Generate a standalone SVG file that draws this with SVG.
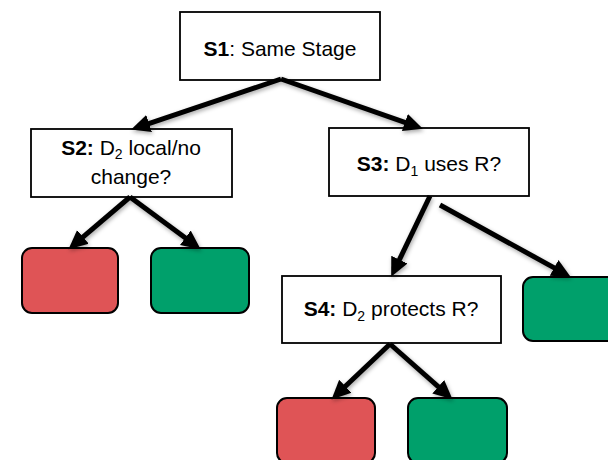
<svg xmlns="http://www.w3.org/2000/svg" width="608" height="460" viewBox="0 0 608 460">
  <style>
    .box { fill: #ffffff; stroke: #000000; stroke-width: 1.8; }
    .bad { fill: #DF5456; stroke: #000000; stroke-width: 2; }
    .good { fill: #00A06B; stroke: #000000; stroke-width: 2; }
    .lbl { font-family: "Liberation Sans", Arial, sans-serif; font-size: 21px; fill: #000000; text-anchor: middle; }
    .b { font-weight: bold; }
    .sub { font-size: 14px; }
    .edge { stroke: #000000; stroke-width: 5; fill: none; marker-end: url(#head); }
  </style>
  <defs>
    <marker id="head" markerUnits="userSpaceOnUse" markerWidth="20" markerHeight="20" viewBox="0 0 20 20" refX="9" refY="10" orient="auto">
      <path d="M0,1 L19,10 L0,19 z" fill="#000000"/>
    </marker>
    <filter id="shade" x="-20%" y="-20%" width="140%" height="140%">
      <feDropShadow dx="1" dy="2" stdDeviation="2" flood-color="#000000" flood-opacity="0.35"/>
    </filter>
  </defs>

  <rect width="608" height="460" fill="#ffffff"/>

  <g id="s1">
    <rect class="box" x="180" y="12" width="200" height="68"/>
    <text class="lbl" x="280" y="56"><tspan class="b">S1</tspan>: Same Stage</text>
  </g>

  <g id="s2">
    <rect class="box" x="31" y="129" width="201" height="68"/>
    <text class="lbl" x="131" y="155"><tspan class="b">S2:</tspan> D<tspan class="sub" dy="4">2</tspan><tspan dy="-4"> local/no</tspan></text>
    <text class="lbl" x="131" y="184">change?</text>
  </g>

  <g id="s3">
    <rect class="box" x="329" y="128" width="200" height="68"/>
    <text class="lbl" x="429" y="171"><tspan class="b">S3:</tspan> D<tspan class="sub" dy="5">1</tspan><tspan dy="-5"> uses R?</tspan></text>
  </g>

  <g id="s4">
    <rect class="box" x="282" y="276" width="219" height="67"/>
    <text class="lbl" x="391" y="316"><tspan class="b">S4:</tspan> D<tspan class="sub" dy="5">2</tspan><tspan dy="-5"> protects R?</tspan></text>
  </g>

  <g id="s2-no">
    <rect class="bad" x="22" y="248" width="96" height="65" rx="10"/>
  </g>
  <g id="s2-yes">
    <rect class="good" x="151" y="248" width="98" height="65" rx="10"/>
  </g>
  <g id="s3-no">
    <rect class="good" x="523" y="277" width="98" height="64" rx="10"/>
  </g>
  <g id="s4-no">
    <rect class="bad" x="277" y="398" width="98" height="65" rx="10"/>
  </g>
  <g id="s4-yes">
    <rect class="good" x="408" y="398" width="99" height="65" rx="10"/>
  </g>

  <g id="connectors" filter="url(#shade)">
    <line class="edge" x1="281" y1="79" x2="140.6" y2="126.4"/>
    <line class="edge" x1="281" y1="79" x2="413.4" y2="125.4"/>
    <line class="edge" x1="130" y1="197" x2="76.1" y2="242.8"/>
    <line class="edge" x1="130" y1="197" x2="192.6" y2="243.2"/>
    <line class="edge" x1="430" y1="196" x2="395.5" y2="267.8"/>
    <line class="edge" x1="440" y1="205" x2="562" y2="272.1"/>
    <line class="edge" x1="390" y1="344" x2="338.8" y2="392.5"/>
    <line class="edge" x1="390" y1="344" x2="445" y2="392.7"/>
  </g>
</svg>
